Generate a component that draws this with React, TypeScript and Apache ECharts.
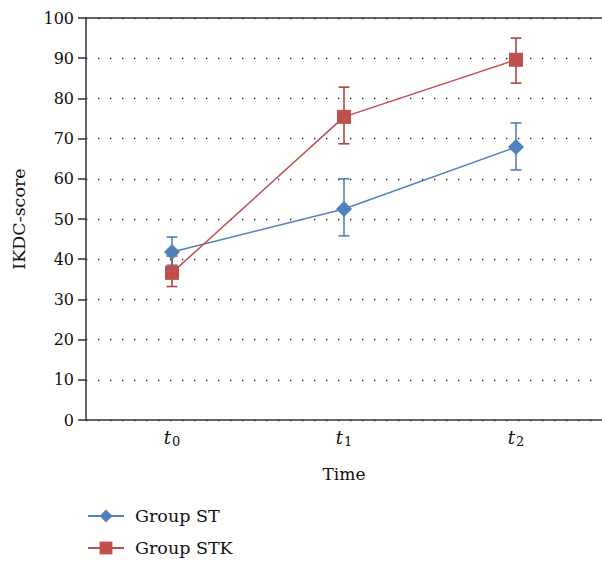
import React, { useEffect, useRef } from 'react';
import * as echarts from 'echarts';

const categories = ['t0', 't1', 't2'];
const subscripts = ['0', '1', '2'];
const yMin = 0;
const yMax = 100;
const yInterval = 10;
const stMean = [41.8, 52.5, 67.9];
const stLow = [38.5, 45.8, 62.2];
const stHigh = [45.5, 60.0, 73.9];
const stkMean = [36.6, 75.4, 89.6];
const stkLow = [33.2, 68.7, 83.8];
const stkHigh = [40.8, 82.8, 95.0];
const seriesNames = ['Group ST', 'Group STK'];

const BLUE = '#4F81BD';
const RED = '#C0504D';
const FONT = 'DejaVu Serif';

function errorSeries(low: number[], high: number[], color: string, z: number) {
  return {
    type: 'custom',
    z,
    silent: true,
    data: low.map((l, i) => [i, l, high[i]]),
    renderItem: (params: any, api: any) => {
      const x = api.value(0);
      const lo = api.coord([x, api.value(1)]);
      const hi = api.coord([x, api.value(2)]);
      const hw = 5.5;
      const style = { stroke: color, lineWidth: 1.6 };
      return {
        type: 'group',
        children: [
          { type: 'line', shape: { x1: lo[0], y1: lo[1], x2: hi[0], y2: hi[1] }, style },
          { type: 'line', shape: { x1: lo[0] - hw, y1: lo[1], x2: lo[0] + hw, y2: lo[1] }, style },
          { type: 'line', shape: { x1: hi[0] - hw, y1: hi[1], x2: hi[0] + hw, y2: hi[1] }, style },
        ],
      };
    },
  };
}

function legendFor(name: string, top: number) {
  return {
    orient: 'vertical',
    left: 82,
    top,
    itemWidth: 36,
    itemHeight: 16,
    itemGap: 10,
    textStyle: { fontFamily: FONT, fontSize: 17.5, color: '#111', padding: [0, 0, 0, 6] },
    data: [name],
  };
}

export default function App() {
  const ref = useRef<HTMLDivElement>(null);
  useEffect(() => {
    document.body.style.margin = '0';
    const chart = echarts.init(ref.current!, undefined, { renderer: 'svg' });
    chart.setOption({
      animation: false,
      backgroundColor: '#ffffff',
      textStyle: { fontFamily: FONT, color: '#111' },
      grid: { left: 86, top: 18, width: 519, height: 402 },
      legend: [legendFor(seriesNames[0], 502), legendFor(seriesNames[1], 534)],
      xAxis: [
        {
          type: 'category',
          data: categories,
          boundaryGap: true,
          name: 'Time',
          nameLocation: 'middle',
          nameGap: 45,
          nameTextStyle: { fontFamily: FONT, fontSize: 17, color: '#111' },
          axisLine: { lineStyle: { color: '#333', width: 1.5 } },
          axisTick: { alignWithLabel: true, inside: true, length: 5, lineStyle: { color: '#333', width: 1.5 } },
          axisLabel: {
            margin: 6,
            formatter: (v: string, i: number) => `{t|t}{s|${subscripts[i]}}`,
            rich: {
              t: { fontFamily: FONT, fontStyle: 'italic', fontSize: 18, color: '#111', lineHeight: 22 },
              s: { fontFamily: FONT, fontSize: 13, color: '#111', verticalAlign: 'bottom', lineHeight: 22, padding: [7, 0, 0, 1] },
            },
          },
        },
        {
          type: 'category',
          data: categories,
          position: 'top',
          axisLine: { show: true, lineStyle: { color: '#333', width: 1.5 } },
          axisTick: { show: false },
          axisLabel: { show: false },
        },
      ],
      yAxis: {
        type: 'value',
        min: yMin,
        max: yMax,
        interval: yInterval,
        name: 'IKDC-score',
        nameLocation: 'middle',
        nameGap: 58,
        nameTextStyle: { fontFamily: FONT, fontSize: 17.5, color: '#111' },
        axisLine: { show: true, lineStyle: { color: '#333', width: 1.5 } },
        axisTick: { show: true, length: 8, lineStyle: { color: '#333', width: 1.5 } },
        axisLabel: { margin: 12, fontFamily: FONT, fontSize: 16, color: '#111' },
        splitLine: { show: true, lineStyle: { color: '#222', width: 1.3, type: [1.3, 10.7] } },
      },
      series: [
        errorSeries(stLow, stHigh, BLUE, 1),
        errorSeries(stkLow, stkHigh, '#B04440', 2),
        {
          name: seriesNames[0],
          type: 'line',
          z: 3,
          data: stMean,
          symbol: 'diamond',
          symbolSize: 16,
          lineStyle: { color: BLUE, width: 1.5 },
          itemStyle: { color: BLUE },
        },
        {
          name: seriesNames[1],
          type: 'line',
          z: 4,
          data: stkMean,
          symbol: 'rect',
          symbolSize: 14,
          lineStyle: { color: RED, width: 1.5 },
          itemStyle: { color: RED },
        },
      ],
    });
    return () => chart.dispose();
  }, []);
  return <div ref={ref} style={{ width: 602, height: 562 }} />;
}
